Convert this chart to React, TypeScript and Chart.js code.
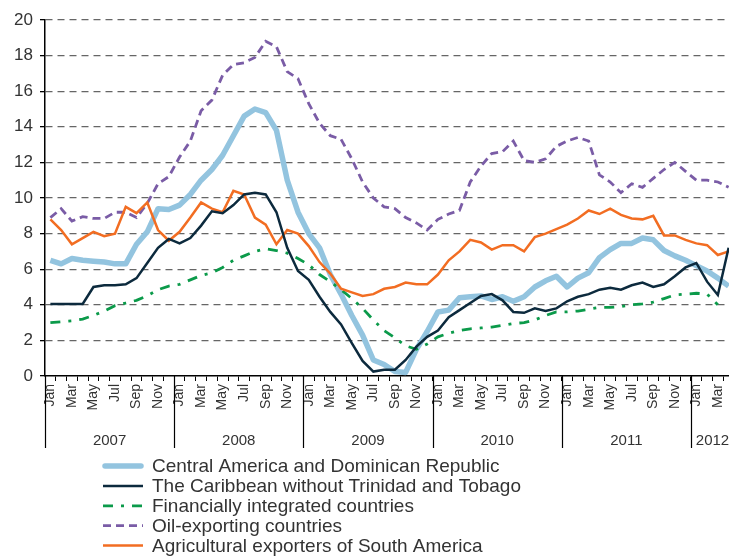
import React, { useEffect, useRef } from 'react';
import { Chart, registerables } from 'chart.js';

Chart.register(...registerables);

// ---------- data ----------
const MONTHS = ['Jan', 'Feb', 'Mar', 'Apr', 'May', 'Jun', 'Jul', 'Aug', 'Sep', 'Oct', 'Nov', 'Dec'];
const YEARS = ['2007', '2008', '2009', '2010', '2011', '2012'];
const MONTHS_IN_LAST_YEAR = 4;
const Y_TICKS = [0, 2, 4, 6, 8, 10, 12, 14, 16, 18, 20];

const SERIES_NAMES = [
  'Central America and Dominican Republic',
  'The Caribbean without Trinidad and Tobago',
  'Financially integrated countries',
  'Oil-exporting countries',
  'Agricultural exporters of South America',
];

const centralAmerica = [
  6.5, 6.3, 6.6, 6.5, 6.45, 6.4, 6.3, 6.3, 7.4, 8.1, 9.4, 9.35,
  9.6, 10.2, 11.0, 11.6, 12.4, 13.5, 14.6, 15.0, 14.8, 13.8, 11.0, 9.2,
  8.0, 7.2, 5.7, 4.6, 3.4, 2.3, 0.9, 0.65, 0.25, 0.2, 1.5, 2.5,
  3.6, 3.7, 4.4, 4.45, 4.5, 4.3, 4.45, 4.2, 4.45, 5.0, 5.35, 5.6,
  5.0, 5.5, 5.8, 6.65, 7.1, 7.45, 7.45, 7.75, 7.65, 7.05, 6.75, 6.5,
  6.2, 5.9, 5.5, 5.05,
];

const caribbean = [
  4.05, 4.05, 4.05, 4.05, 5.0, 5.1, 5.1, 5.15, 5.5, 6.35, 7.2, 7.7,
  7.45, 7.75, 8.45, 9.25, 9.15, 9.6, 10.2, 10.3, 10.2, 9.2, 7.2, 5.9,
  5.4, 4.45, 3.6, 2.9, 1.85, 0.85, 0.25, 0.35, 0.35, 0.9, 1.65, 2.2,
  2.55, 3.3, 3.7, 4.1, 4.5, 4.6, 4.25, 3.6, 3.55, 3.8, 3.65, 3.8,
  4.2, 4.45, 4.6, 4.85, 4.95, 4.85, 5.1, 5.25, 5.0, 5.15, 5.6, 6.1,
  6.35, 5.3, 4.55, 7.2,
];

const financiallyIntegrated = [
  3.0, 3.05, 3.1, 3.2, 3.4, 3.65, 3.95, 4.1, 4.25, 4.5, 4.85, 5.05,
  5.15, 5.4, 5.65, 5.8, 6.1, 6.5, 6.75, 7.0, 7.15, 7.05, 6.9, 6.6,
  6.25, 5.7, 5.3, 4.85, 4.35, 3.8, 3.15, 2.55, 2.15, 1.7, 1.5, 1.8,
  2.2, 2.4, 2.55, 2.65, 2.7, 2.75, 2.85, 2.95, 3.0, 3.15, 3.4, 3.6,
  3.6, 3.65, 3.75, 3.85, 3.85, 3.9, 4.0, 4.05, 4.15, 4.35, 4.55, 4.6,
  4.65, 4.6, 4.0, null,
];

const oilExporting = [
  8.9, 9.4, 8.7, 8.95, 8.85, 8.85, 9.2, 9.2, 8.9, 9.7, 10.8, 11.2,
  12.3, 13.2, 14.9, 15.5, 16.9, 17.5, 17.6, 17.9, 18.8, 18.5, 17.1, 16.7,
  15.3, 14.2, 13.5, 13.3, 12.2, 10.9, 10.0, 9.5, 9.4, 8.9, 8.6, 8.2,
  8.8, 9.1, 9.3, 10.9, 11.8, 12.5, 12.6, 13.2, 12.1, 12.0, 12.2, 12.9,
  13.2, 13.4, 13.2, 11.3, 10.9, 10.3, 10.8, 10.6, 11.1, 11.6, 12.0, 11.5,
  11.0, 11.0, 10.9, 10.6,
];

const agriculturalExporters = [
  8.8, 8.2, 7.4, 7.75, 8.1, 7.85, 8.0, 9.5, 9.15, 9.75, 8.2, 7.6,
  8.1, 8.9, 9.75, 9.4, 9.2, 10.4, 10.2, 8.9, 8.5, 7.4, 8.2, 8.0,
  7.3, 6.4, 5.75, 4.9, 4.7, 4.5, 4.6, 4.9, 5.0, 5.25, 5.15, 5.15,
  5.7, 6.5, 7.0, 7.65, 7.5, 7.1, 7.35, 7.35, 7.0, 7.8, 8.0, 8.25,
  8.5, 8.85, 9.3, 9.1, 9.4, 9.05, 8.85, 8.8, 9.0, 7.9, 7.9, 7.65,
  7.45, 7.35, 6.8, 7.0,
];

// categories: one per month
const categories: string[] = [];
YEARS.forEach((_, k) => {
  const n = k === YEARS.length - 1 ? MONTHS_IN_LAST_YEAR : 12;
  for (let m = 0; m < n; m++) categories.push(MONTHS[m]);
});

const FONT = '"Liberation Sans", Arial, Helvetica, sans-serif';
const TEXT = '#333333';

const yearPlugin = {
  id: 'yearGroups',
  afterDraw(chart: any) {
    const { ctx, chartArea, scales } = chart;
    const x = scales.x;
    const half = (x.getPixelForValue(1) - x.getPixelForValue(0)) / 2;
    const yTop = chartArea.bottom;
    const yBottom = 448;
    ctx.save();
    ctx.strokeStyle = '#000';
    ctx.lineWidth = 1.2;
    ctx.font = `15px ${FONT}`;
    ctx.fillStyle = TEXT;
    ctx.textAlign = 'center';
    ctx.textBaseline = 'middle';
    let idx = 0;
    YEARS.forEach((yr, k) => {
      const n = k === YEARS.length - 1 ? MONTHS_IN_LAST_YEAR : 12;
      const x0 = x.getPixelForValue(idx) - half;
      const x1 = x.getPixelForValue(idx + n - 1) + half;
      const lx = Math.round(x0) + 0.5;
      ctx.beginPath();
      ctx.moveTo(lx, yTop);
      ctx.lineTo(lx, yBottom);
      ctx.stroke();
      ctx.fillText(yr, (x0 + x1) / 2, 441);
      idx += n;
    });
    ctx.restore();
  },
};

const legendPlugin = {
  id: 'columnLegend',
  afterDraw(chart: any) {
    const ctx = chart.ctx;
    ctx.save();
    ctx.font = `19px ${FONT}`;
    ctx.fillStyle = TEXT;
    ctx.textBaseline = 'middle';
    ctx.textAlign = 'left';
    chart.data.datasets.forEach((ds: any, i: number) => {
      const y = 466 + i * 19.9;
      ctx.beginPath();
      ctx.strokeStyle = ds.borderColor;
      ctx.lineWidth = ds.borderWidth;
      ctx.setLineDash(ds.borderDash || []);
      ctx.lineCap = i === 0 ? 'round' : 'butt';
      ctx.moveTo(i === 0 ? 105 : 103, y);
      ctx.lineTo(i === 0 ? 141 : 143, y);
      ctx.stroke();
      ctx.setLineDash([]);
      ctx.fillText(ds.label, 152, y + 1);
    });
    ctx.restore();
  },
};

export default function App() {
  const canvasRef = useRef<HTMLCanvasElement | null>(null);

  useEffect(() => {
    if (!canvasRef.current) return;
    Chart.defaults.font.family = FONT;
    const chart = new Chart(canvasRef.current, {
      type: 'line',
      data: {
        labels: categories,
        datasets: [
          {
            label: SERIES_NAMES[0],
            data: centralAmerica,
            borderColor: '#93c4df',
            borderWidth: 5.5,
            borderJoinStyle: 'round',
            pointRadius: 0,
            order: 5,
          },
          {
            label: SERIES_NAMES[1],
            data: caribbean,
            borderColor: '#0c2a3d',
            borderWidth: 2.5,
            pointRadius: 0,
            order: 1,
          },
          {
            label: SERIES_NAMES[2],
            data: financiallyIntegrated,
            borderColor: '#0b9a4a',
            borderWidth: 2.8,
            borderDash: [10, 8, 3, 8],
            pointRadius: 0,
            order: 3,
          },
          {
            label: SERIES_NAMES[3],
            data: oilExporting,
            borderColor: '#7a5ca6',
            borderWidth: 2.8,
            borderDash: [8, 5],
            pointRadius: 0,
            order: 4,
          },
          {
            label: SERIES_NAMES[4],
            data: agriculturalExporters,
            borderColor: '#f26d22',
            borderWidth: 2.5,
            pointRadius: 0,
            order: 2,
          },
        ] as any,
      },
      options: {
        animation: false,
        responsive: false,
        maintainAspectRatio: false,
        layout: { padding: { top: 20, left: 0, right: 0, bottom: 110 } },
        plugins: { legend: { display: false }, tooltip: { enabled: false } },
        scales: {
          x: {
            type: 'category',
            offset: true,
            grid: {
              offset: true,
              drawOnChartArea: false,
              drawTicks: true,
              tickLength: 5,
              tickColor: '#000',
              color: '#000',
            },
            border: { display: true, color: '#000', width: 1.5 },
            ticks: {
              autoSkip: false,
              maxRotation: 90,
              minRotation: 90,
              padding: 3,
              color: TEXT,
              font: { size: 14, family: FONT },
              callback: (_v: any, i: number) => (i % 2 === 0 ? categories[i] : ''),
            },
            afterFit: (scale: any) => {
              scale.height = 70;
              scale.paddingLeft = 0;
              scale.paddingRight = 0;
            },
          },
          y: {
            min: 0,
            max: 20,
            afterBuildTicks: (scale: any) => {
              scale.ticks = Y_TICKS.map((v) => ({ value: v }));
            },
            grid: {
              color: (c: any) => (c.tick && c.tick.value === 0 ? 'rgba(0,0,0,0)' : '#666'),
              lineWidth: 1.3,
              drawTicks: true,
              tickLength: 5,
              tickColor: '#000',
              tickBorderDash: [],
            },
            border: { display: true, color: '#000', width: 1.5, dash: [7, 5] },
            ticks: {
              padding: 7,
              color: TEXT,
              font: { size: 17, family: FONT },
            },
            afterFit: (scale: any) => {
              scale.width = 45;
            },
          },
        },
      } as any,
      plugins: [yearPlugin, legendPlugin],
    });
    return () => chart.destroy();
  }, []);

  return (
    <div
      style={{
        position: 'fixed',
        left: 0,
        top: 0,
        width: 729,
        height: 556,
        overflow: 'hidden',
        background: '#fff',
      }}
    >
      <canvas ref={canvasRef} width={734} height={556} style={{ display: 'block' }} />
    </div>
  );
}
